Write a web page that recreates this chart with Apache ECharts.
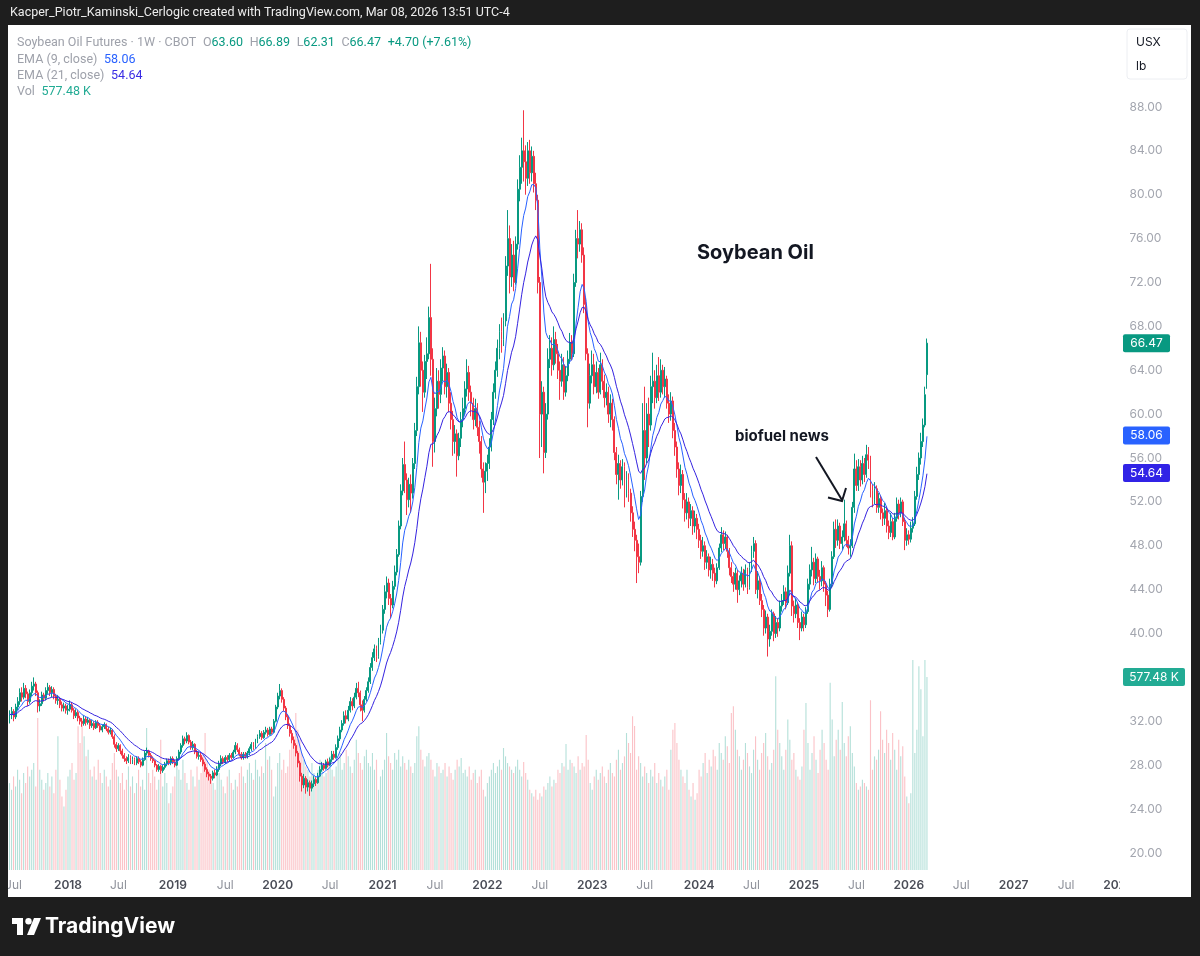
<!DOCTYPE html>
<html><head><meta charset="utf-8">
<script src="https://cdn.jsdelivr.net/npm/echarts@6/dist/echarts.min.js"></script>
<style>html,body{margin:0;padding:0;background:#1e1e1e;}#c{width:1200px;height:956px;}</style>
</head><body><div id="c"></div>
<script>
// ---- DATA (weekly candles: [open, close, low, high]) ----
const startWeek = '2017-06-12';
const weekCount = 551;
const priceTicks = [20,24,28,32,36,40,44,48,52,56,60,64,68,72,76,80,84,88];
const w2017 = [[32.3,32.6,31.8,33.0],[32.6,32.9,32.2,33.3],[32.9,32.4,32.0,33.1],[32.4,33.3,32.2,33.6],[33.3,33.8,33.0,34.2],
[33.8,34.6,33.5,35.0],[34.6,34.2,33.8,35.1],[34.2,35.0,34.0,35.5],[35.0,34.5,34.1,35.3],[34.5,33.8,33.4,34.7],
[33.8,34.6,33.6,34.9],[34.6,35.2,34.3,35.6],[35.2,35.4,34.8,36.0],[35.4,34.6,34.3,35.6],[34.6,33.4,32.8,34.8],
[33.4,33.6,32.9,34.0],[33.6,34.4,33.4,34.7],[34.4,34.1,33.8,34.6],[34.1,34.8,33.9,35.1],[34.8,35.1,34.5,35.5],
[35.1,34.6,34.3,35.3],[34.6,34.9,34.2,35.2],[34.9,34.3,34.0,35.1],[34.3,33.9,33.6,34.5],[33.9,34.0,33.5,34.4],
[34.0,33.5,33.2,34.2],[33.5,33.2,32.9,33.8],[33.2,33.4,32.9,33.7],[33.4,33.0,32.7,33.6]];
const w2018 = [[33.0,33.1,32.6,33.5],[33.1,33.5,32.9,33.9],[33.5,33.0,32.8,33.7],[33.0,32.5,32.2,33.2],[32.5,32.8,32.3,33.1],
[32.8,32.3,32.0,33.0],[32.3,32.0,31.7,32.5],[32.0,31.8,31.5,32.3],[31.8,32.2,31.6,32.5],[32.2,31.9,31.6,32.4],
[31.9,32.1,31.7,32.4],[32.1,31.6,31.3,32.2],[31.6,31.8,31.4,32.1],[31.8,31.4,31.2,32.0],[31.4,31.9,31.3,32.1],
[31.9,31.6,31.4,32.1],[31.6,31.2,31.0,31.8],[31.2,31.5,31.0,31.7],[31.5,31.7,31.3,31.9],[31.7,31.3,31.1,31.8],
[31.3,31.0,30.8,31.5],[31.0,31.2,30.8,31.4],[31.2,30.6,30.4,31.3],[30.6,29.9,29.6,30.8],[29.9,29.5,29.2,30.1],
[29.5,29.8,29.3,30.0],[29.8,29.3,29.0,29.9],[29.3,28.9,28.6,29.5],[28.9,28.6,28.3,29.1],[28.6,28.4,28.1,28.8],
[28.4,28.7,28.2,29.0],[28.7,28.3,28.1,28.9],[28.3,28.5,28.1,28.8],[28.5,28.2,28.0,28.7],[28.2,28.6,28.0,28.8],
[28.6,28.3,28.1,28.8],[28.3,28.0,27.8,28.5],[28.0,28.5,27.9,28.7],[28.5,29.1,28.4,29.3],[29.1,29.3,28.9,29.6],
[29.3,28.9,28.7,29.4],[28.9,28.6,28.4,29.1],[28.6,28.4,28.2,28.8],[28.4,28.0,27.8,28.5],[28.0,27.6,27.4,28.1],
[27.6,27.9,27.4,28.1],[27.9,27.5,27.2,28.0],[27.5,27.8,27.3,28.0],[27.8,28.1,27.6,28.3],[28.1,28.4,27.9,28.6],
[28.4,28.2,28.0,28.6],[28.2,28.6,28.0,28.8]];
const w2019 = [[28.6,28.3,28.1,28.8],[28.3,28.0,27.8,28.5],[28.0,28.6,27.9,28.8],[28.6,29.2,28.5,29.4],[29.2,29.8,29.0,30.0],
[29.8,30.4,29.6,30.7],[30.4,30.2,29.9,30.6],[30.2,30.7,30.0,31.0],[30.7,30.1,29.9,30.8],[30.1,29.6,29.4,30.3],
[29.6,29.9,29.4,30.2],[29.9,29.2,29.0,30.0],[29.2,28.8,28.6,29.4],[28.8,28.9,28.5,29.2],[28.9,28.5,28.3,29.1],
[28.5,28.1,27.9,28.7],[28.1,27.6,27.4,28.3],[27.6,27.2,26.9,27.8],[27.2,27.0,26.6,27.4],[27.0,26.8,26.3,27.2],
[26.8,27.3,26.6,27.5],[27.3,27.1,26.8,27.6],[27.1,27.6,27.0,27.9],[27.6,28.1,27.4,28.4],[28.1,28.6,27.9,28.9],
[28.6,28.3,28.1,28.8],[28.3,28.7,28.1,28.9],[28.7,28.5,28.3,28.9],[28.5,28.9,28.3,29.1],[28.9,28.7,28.5,29.1],
[28.7,29.2,28.6,29.4],[29.2,29.8,29.0,30.1],[29.8,29.4,29.2,30.0],[29.4,29.0,28.8,29.6],[29.0,28.7,28.5,29.2],
[28.7,29.0,28.5,29.2],[29.0,28.8,28.6,29.2],[28.8,29.1,28.6,29.3],[29.1,29.5,28.9,29.7],[29.5,29.9,29.3,30.1],
[29.9,29.6,29.4,30.1],[29.6,30.2,29.5,30.4],[30.2,30.6,30.0,30.8],[30.6,30.9,30.4,31.2],[30.9,30.5,30.3,31.1],
[30.5,31.0,30.4,31.2],[31.0,31.2,30.8,31.5],[31.2,30.8,30.6,31.4],[30.8,31.3,30.7,31.5],[31.3,31.0,30.8,31.5],
[31.0,32.0,30.9,32.2],[32.0,33.3,31.9,33.5]];
const w2020 = [[33.3,34.3,33.1,34.6],[34.3,34.8,34.0,35.4],[34.8,34.0,33.7,35.0],[34.0,33.2,32.9,34.2],[33.2,32.4,32.1,33.4],
[32.4,31.6,31.3,32.6],[31.6,30.9,30.6,31.8],[30.9,30.3,30.0,31.2],[30.3,29.8,29.5,30.6],[29.8,29.1,28.8,30.0],
[29.1,28.2,27.8,29.3],[28.2,27.0,26.5,28.4],[27.0,26.2,25.6,27.3],[26.2,26.8,25.9,27.2],[26.8,26.0,25.4,27.0],
[26.0,26.4,25.6,26.7],[26.4,25.9,25.2,26.6],[25.9,26.3,25.6,26.6],[26.3,26.7,26.0,27.0],[26.7,26.4,26.1,26.9],
[26.4,27.0,26.3,27.3],[27.0,27.6,26.9,27.9],[27.6,28.0,27.4,28.3],[28.0,27.7,27.5,28.2],[27.7,28.3,27.6,28.5],
[28.3,28.0,27.8,28.6],[28.0,28.5,27.9,28.7],[28.5,29.0,28.3,29.3],[29.0,28.7,28.5,29.3],[28.7,29.6,28.6,29.9],
[29.6,30.4,29.4,30.7],[30.4,31.2,30.2,31.5],[31.2,31.8,31.0,32.1],[31.8,32.5,31.6,32.9],[32.5,32.2,31.8,33.0],
[32.2,33.0,32.0,33.4],[33.0,33.8,32.8,34.2],[33.8,33.4,33.0,34.1],[33.4,34.2,33.2,34.6],[34.2,35.0,34.0,35.5],
[35.0,34.6,34.2,35.6],[34.6,33.5,32.9,34.8],[33.5,33.0,32.0,33.9],[33.0,34.0,32.8,34.3],[34.0,34.8,33.8,35.1],
[34.8,35.6,34.6,36.0],[35.6,36.9,35.4,37.3],[36.9,37.8,36.6,38.3],[37.8,38.6,37.5,39.0],[38.6,37.9,37.4,38.9],
[37.9,39.2,37.7,39.6],[39.2,40.3,39.0,40.8]];
const w2021 = [[40.3,42.2,40.0,42.6],[42.2,43.8,41.8,44.4],[43.8,44.6,43.2,45.2],[44.6,43.2,42.6,45.0],[43.2,42.6,41.4,43.6],
[42.6,44.3,42.3,44.8],[44.3,45.6,44.0,46.2],[45.6,47.2,45.3,47.7],[47.2,49.8,47.0,50.3],[49.8,53.0,49.5,53.6],
[53.0,55.4,52.6,56.0],[55.4,54.0,52.8,57.5],[54.0,52.2,50.8,54.6],[52.2,53.6,51.5,54.2],[53.6,52.8,51.0,54.5],
[52.8,55.5,52.3,56.0],[55.5,58.5,55.0,59.2],[58.5,62.5,58.0,63.4],[62.5,66.5,61.8,68.0],[66.5,64.0,62.5,67.5],
[64.0,62.0,60.2,64.8],[62.0,64.8,61.5,65.4],[64.8,65.5,63.2,67.0],[65.5,68.8,65.0,69.8],[68.8,65.0,63.5,73.7],
[65.0,57.5,55.2,66.0],[57.5,60.5,56.5,61.5],[60.5,63.0,59.8,64.2],[63.0,61.8,60.5,64.0],[61.8,64.2,61.0,65.0],
[64.2,65.3,63.0,66.1],[65.3,62.5,61.8,65.8],[62.5,63.8,61.5,64.6],[63.8,61.0,60.2,64.2],[61.0,59.5,58.6,62.0],
[59.5,57.5,56.2,60.3],[57.5,58.2,56.4,59.0],[58.2,56.2,54.3,58.6],[56.2,57.8,55.8,58.3],[57.8,59.5,57.0,60.2],
[59.5,60.5,58.8,61.5],[60.5,62.3,59.9,63.0],[62.3,63.8,61.6,65.0],[63.8,62.0,61.2,64.4],[62.0,61.0,59.8,62.6],
[61.0,59.5,58.6,61.5],[59.5,60.5,58.9,61.4],[60.5,58.8,58.0,61.0],[58.8,57.5,56.4,59.4],[57.5,55.0,54.2,58.0],
[55.0,53.8,51.0,55.6],[53.8,54.8,52.8,55.6],[54.8,55.5,53.9,56.3]];
const w2022 = [[55.5,57.0,55.0,57.8],[57.0,59.5,56.6,60.2],[59.5,62.0,59.0,62.8],[62.0,64.0,61.4,64.8],[64.0,66.0,63.4,66.8],
[66.0,67.5,65.0,68.2],[67.5,66.8,65.6,68.8],[66.8,68.5,66.2,69.2],[68.5,73.5,68.0,74.4],[73.5,76.0,72.6,78.6],
[76.0,72.5,71.0,77.2],[72.5,74.5,71.6,75.5],[74.5,72.0,71.2,75.8],[72.0,75.5,71.8,76.2],[75.5,80.5,75.0,81.4],
[80.5,82.5,79.4,83.6],[82.5,84.0,81.0,85.2],[84.0,83.0,81.2,87.7],[83.0,81.5,80.0,84.5],[81.5,84.0,80.8,84.8],
[84.0,82.0,81.0,85.0],[82.0,83.5,81.2,84.4],[83.5,81.0,80.2,84.0],[81.0,79.5,78.6,82.0],[79.5,72.0,71.0,80.0],
[72.0,60.0,56.0,72.5],[60.0,62.0,57.0,63.0],[62.0,56.5,54.6,62.5],[56.5,60.0,56.0,61.0],[60.0,65.0,59.5,66.0],
[65.0,66.0,64.2,67.2],[66.0,64.5,63.5,67.0],[64.5,66.8,64.0,68.0],[66.8,65.5,64.6,67.5],[65.5,64.0,63.2,66.4],
[64.0,63.0,61.3,64.8],[63.0,64.5,62.5,65.5],[64.5,62.0,61.3,65.2],[62.0,63.5,61.6,64.4],[63.5,65.0,63.0,65.8],
[65.0,66.5,64.6,67.4],[66.5,65.5,64.9,67.2],[65.5,72.0,65.2,72.8],[72.0,76.0,71.6,76.8],[76.0,75.5,74.2,78.6],
[75.5,76.8,74.8,77.6],[76.8,74.5,73.8,77.4],[74.5,70.0,69.2,75.2],[70.0,65.5,64.9,70.6],[65.5,61.0,58.8,66.0],
[61.0,63.5,60.5,64.6],[63.5,64.5,62.8,65.8]];
const w2023 = [[64.5,62.5,61.8,65.5],[62.5,63.8,61.9,64.8],[63.8,62.0,61.4,64.2],[62.0,64.5,61.8,65.6],[64.5,63.0,62.2,65.0],
[63.0,61.5,60.6,63.6],[61.5,62.0,60.8,62.8],[62.0,60.0,59.2,62.5],[60.0,61.0,58.8,61.8],[61.0,59.5,58.5,61.4],
[59.5,56.5,55.8,59.8],[56.5,54.5,53.6,57.0],[54.5,55.5,52.2,56.3],[55.5,54.0,53.2,55.8],[54.0,55.2,53.5,55.9],
[55.2,53.0,51.5,55.6],[53.0,54.0,52.4,54.8],[54.0,52.8,52.0,54.6],[52.8,51.0,50.2,53.2],[51.0,49.5,48.8,51.6],
[49.5,48.5,47.5,50.2],[48.5,47.0,44.6,49.0],[47.0,46.5,45.5,48.2],[46.5,52.5,46.2,53.0],[52.5,58.5,52.0,61.0],
[58.5,56.0,54.0,62.5],[56.0,60.0,55.5,61.0],[60.0,59.0,57.0,61.5],[59.0,62.5,58.5,63.5],[62.5,63.0,61.0,65.6],
[63.0,61.5,60.5,64.0],[61.5,63.5,61.0,64.5],[63.5,62.0,61.2,65.2],[62.0,64.0,61.5,65.0],[64.0,62.5,61.8,64.5],
[62.5,63.2,61.5,64.3],[63.2,61.0,60.5,63.5],[61.0,60.0,59.2,61.8],[60.0,61.2,59.4,62.0],[61.2,58.5,57.8,61.6],
[58.5,57.0,56.2,59.2],[57.0,55.0,54.2,57.5],[55.0,53.5,52.6,55.6],[53.5,54.5,52.8,55.4],[54.5,52.2,51.4,54.9],
[52.2,51.0,50.2,52.8],[51.0,52.0,50.4,52.8],[52.0,50.5,49.6,52.4],[50.5,51.2,49.8,51.8],[51.2,49.8,49.0,51.6],
[49.8,50.5,49.2,51.2],[50.5,49.5,48.6,50.9]];
const w2024 = [[49.5,48.5,47.8,50.0],[48.5,47.5,46.8,49.0],[47.5,48.0,47.0,48.8],[48.0,46.5,45.8,48.4],[46.5,47.0,45.9,47.6],
[47.0,45.8,45.2,47.3],[45.8,46.3,45.0,47.0],[46.3,45.5,44.8,46.8],[45.5,44.8,44.2,46.0],[44.8,46.0,44.5,46.4],
[46.0,47.8,45.8,48.2],[47.8,49.0,47.4,49.7],[49.0,48.2,47.6,49.4],[48.2,48.8,47.7,49.3],[48.8,47.5,46.9,49.0],
[47.5,46.0,45.3,47.8],[46.0,45.2,44.6,46.5],[45.2,44.5,43.8,45.6],[44.5,45.5,44.0,46.0],[45.5,44.0,42.8,45.8],
[44.0,44.8,43.5,45.3],[44.8,45.5,44.2,46.1],[45.5,44.5,43.9,45.9],[44.5,45.8,44.2,46.3],[45.8,44.2,43.6,46.0],
[44.2,46.0,44.0,46.5],[46.0,47.5,45.6,48.0],[47.5,48.2,46.9,48.8],[48.2,44.0,43.6,48.5],[44.0,44.8,43.2,45.7],
[44.8,43.0,42.6,45.2],[43.0,42.2,41.5,43.6],[42.2,40.5,39.8,42.6],[40.5,41.5,40.0,42.1],[41.5,39.5,37.9,41.8],
[39.5,40.2,38.8,40.8],[40.2,41.8,39.8,42.2],[41.8,40.0,39.3,42.0],[40.0,41.0,39.6,41.6],[41.0,40.5,39.7,41.4],
[40.5,42.5,40.2,43.0],[42.5,43.0,42.0,43.6],[43.0,43.8,42.6,44.4],[43.8,42.8,42.2,44.2],[42.8,45.5,42.6,46.2],
[45.5,48.0,45.2,49.0],[48.0,42.5,41.6,48.4],[42.5,41.8,41.0,43.0],[41.8,42.6,41.4,43.2],[42.6,41.0,40.5,42.8],
[41.0,40.5,39.4,41.4],[40.5,41.5,40.2,42.0]];
const w2025 = [[41.5,40.8,40.2,41.8],[40.8,42.0,40.5,42.4],[42.0,44.5,41.8,45.0],[44.5,45.8,44.0,46.3],[45.8,46.5,45.2,47.9],
[46.5,45.0,44.4,46.9],[45.0,46.8,44.6,47.3],[46.8,45.2,44.7,47.0],[45.2,44.8,44.0,45.8],[44.8,46.0,44.3,46.6],
[46.0,44.5,43.8,46.2],[44.5,43.5,42.5,44.8],[43.5,42.2,41.5,43.9],[42.2,44.5,42.0,45.0],[44.5,47.0,44.2,47.5],
[47.0,49.5,46.8,50.2],[49.5,48.5,47.8,50.4],[48.5,49.8,48.0,50.4],[49.8,48.2,47.7,50.1],[48.2,48.8,47.6,49.4],
[48.8,50.0,48.4,52.2],[50.0,48.5,47.9,50.3],[48.5,47.8,47.2,48.9],[47.8,48.0,47.0,48.6],[48.0,51.5,47.8,52.0],
[51.5,55.0,51.0,56.4],[55.0,53.5,53.0,55.8],[53.5,55.2,53.0,55.9],[55.2,54.0,53.4,55.8],[54.0,55.5,53.6,56.2],
[55.5,54.5,53.8,56.0],[54.5,56.3,54.2,57.2],[56.3,55.8,55.0,57.0],[55.8,53.0,52.4,56.2],[53.0,52.2,51.5,53.6],
[52.2,53.2,51.8,53.8],[53.2,51.5,51.0,53.5],[51.5,52.3,51.0,52.8],[52.3,51.0,50.4,52.6],[51.0,50.5,49.8,51.4],
[50.5,51.2,49.9,51.9],[51.2,49.8,49.2,51.6],[49.8,49.2,48.6,50.3],[49.2,50.2,48.8,51.0],[50.2,48.8,48.5,50.5],
[48.8,50.5,48.6,51.0],[50.5,51.8,50.2,52.4],[51.8,51.0,50.4,52.2],[51.0,52.0,50.6,52.4],[52.0,50.2,49.8,52.2],
[50.2,48.5,47.6,50.5],[48.5,49.0,48.0,49.6],[49.0,48.6,48.1,49.4]];
const w2026 = [[48.6,49.6,48.3,50.2],[49.6,50.0,49.2,50.6],[50.0,52.5,49.8,53.0],[52.5,54.5,52.2,55.2],[54.5,56.0,54.0,56.5],
[56.0,57.5,55.4,58.3],[57.5,59.0,57.0,59.6],[59.0,61.77,58.8,62.5],[63.60,66.47,62.31,66.89]];
// weekly volume, thousands of contracts
const v2017 = [260,240,280,250,300,270,230,290,260,310,280,300,320,250,455,300,270,240,260,290,250,280,230,300,400,270,220,190,240];
const v2018 = [280,300,320,270,290,430,380,450,400,340,360,300,280,310,270,330,290,260,300,280,250,270,320,350,300,280,260,290,240,270,310,250,280,230,260,300,250,270,240,425,290,260,300,280,240,270,390,250,290,260,200,230];
const v2019 = [250,280,310,300,270,330,290,260,240,300,280,250,310,270,290,350,410,330,300,280,260,240,310,290,270,250,230,280,300,260,240,270,250,290,310,280,260,300,320,290,270,330,300,280,310,290,380,330,340,300,220,250];
const v2020 = [320,350,300,330,290,310,360,380,400,470,420,390,350,330,310,300,280,320,290,270,300,330,310,280,290,320,340,300,280,310,330,350,300,320,360,340,310,290,330,390,350,320,300,340,360,320,310,350,300,330,240,280];
const v2021 = [300,330,410,340,320,300,350,330,360,310,340,320,300,330,310,290,320,400,430,360,330,310,340,350,330,300,280,320,310,290,300,320,280,310,290,270,300,330,310,335,290,300,280,310,270,290,300,260,280,300,240,220,260];
const v2022 = [280,300,320,290,310,330,300,365,340,320,310,300,290,310,330,300,280,323,290,270,240,230,220,240,210,230,220,250,240,260,280,250,270,260,300,290,320,310,377,300,330,320,310,290,340,300,320,310,404,330,260,240];
const v2023 = [280,300,270,290,310,280,260,300,320,290,280,330,360,300,320,340,410,380,350,460,431,300,340,320,280,310,290,260,300,280,320,260,290,270,250,280,300,240,360,420,440,380,330,300,280,260,300,240,220,260,210,230];
const v2024 = [300,280,320,350,290,330,310,360,340,300,380,350,330,400,370,320,470,490,420,360,340,300,330,380,350,310,290,360,400,330,300,350,380,410,340,300,320,360,580,420,380,340,300,360,450,390,330,350,300,280,270,310];
const v2025 = [420,500,380,300,350,400,330,290,360,420,380,330,300,560,450,340,390,420,360,503,380,340,400,430,350,310,260,240,250,270,260,250,240,508,300,340,330,360,475,390,350,420,380,330,410,360,300,390,340,370,280,220,200];
const v2026 = [230,628,350,420,610,541,400,628,577.48];

// ---- BUILD ----
const FF = 'Inter, "Noto Sans", sans-serif';
const FT = 'Roboto, "Noto Sans", sans-serif';
const UP = '#089981', DOWN = '#f23645';
const candles = [].concat(w2017,w2018,w2019,w2020,w2021,w2022,w2023,w2024,w2025,w2026);
const volumes = [].concat(v2017,v2018,v2019,v2020,v2021,v2022,v2023,v2024,v2025,v2026);
const closes = candles.map(r => r[1]);
function ema(src, n){ const k = 2/(n+1); const out=[]; let e = src[0];
  for (let i=0;i<src.length;i++){ e = i===0 ? src[0] : src[i]*k + e*(1-k); out.push(+e.toFixed(3)); } return out; }
const ema9 = ema(closes, 9), ema21 = ema(closes, 21);
const categories = [];
(function(){ const d0 = Date.parse(startWeek + 'T00:00:00Z');
  for (let i=0;i<weekCount;i++) categories.push(new Date(d0 + i*7*864e5).toISOString().slice(0,10)); })();
function labelFor(v){ const d = new Date(v + 'T00:00:00Z'); const e = new Date(d.getTime() + 6*864e5);
  if (d.getUTCDate() === 1 || e.getUTCMonth() !== d.getUTCMonth()) { const m = e.getUTCMonth();
    if (m === 0) return String(e.getUTCFullYear()); if (m === 6) return 'Jul'; } return null; }
const volData = volumes.slice(0, candles.length).map((v,i) => ({ value: v,
  itemStyle: { color: candles[i][1] >= candles[i][0] ? 'rgba(8,153,129,0.30)' : 'rgba(242,54,69,0.30)' } }));

const L = 8.5, R = 80.5;
const chart = echarts.init(document.getElementById('c'), null, { renderer: 'canvas' });
const labIv = (i, v) => !!labelFor(v);
chart.setOption({
  animation: false,
  backgroundColor: '#ffffff',
  textStyle: { fontFamily: FF },
  grid: [
    { left: L, right: R, top: 19.2, bottom: 59.2 },
    { left: L, right: R, top: 872, bottom: 83 },
    { left: L, right: R, top: 660, bottom: 86 }
  ],
  xAxis: [
    { type: 'category', gridIndex: 0, data: categories, boundaryGap: true,
      axisLine: { show: false }, axisTick: { show: false }, axisLabel: { show: false }, splitLine: { show: false } },
    { type: 'category', gridIndex: 1, data: categories, boundaryGap: true,
      axisLine: { show: false }, axisTick: { show: false }, splitLine: { show: false },
      axisLabel: { interval: labIv, margin: 6, fontFamily: FF,
        formatter: v => { const l = labelFor(v); return l === 'Jul' ? '{m|Jul}' : '{y|' + l + '}'; },
        rich: { m: { color: '#8f929b', fontSize: 12, fontFamily: FF },
                y: { color: '#4a4d57', fontSize: 12, fontWeight: 600, fontFamily: FF } } } },
    { type: 'category', gridIndex: 2, data: categories, boundaryGap: true, show: false }
  ],
  yAxis: [
    { type: 'value', gridIndex: 0, position: 'right', min: 16, max: 96, interval: 4, scale: false,
      axisLine: { show: false }, axisTick: { show: false }, splitLine: { show: false },
      axisLabel: { margin: 10, color: '#a3a6af', fontSize: 12, fontFamily: FF,
        formatter: v => (priceTicks.indexOf(v) >= 0 ? v.toFixed(2) : '') } },
    { type: 'value', gridIndex: 1, show: false },
    { type: 'value', gridIndex: 2, min: 0, max: 628.35, show: false, splitLine: { show: false } }
  ],
  series: [
    { type: 'bar', name: 'Vol', xAxisIndex: 2, yAxisIndex: 2, data: volData, barWidth: '55%', z: 1, silent: true },
    { type: 'candlestick', name: 'Soybean Oil', xAxisIndex: 0, yAxisIndex: 0, data: candles, barWidth: '72%', z: 3,
      itemStyle: { color: UP, color0: DOWN, borderColor: UP, borderColor0: DOWN, borderWidth: 1 } },
    { type: 'line', name: 'EMA 9', xAxisIndex: 0, yAxisIndex: 0, data: ema9, showSymbol: false, symbol: 'none', z: 4,
      lineStyle: { color: '#2962ff', width: 1 } },
    { type: 'line', name: 'EMA 21', xAxisIndex: 0, yAxisIndex: 0, data: ema21, showSymbol: false, symbol: 'none', z: 4,
      lineStyle: { color: '#3523e0', width: 1 } }
  ]
});

// ---- overlays ----
const py = v => chart.convertToPixel({ yAxisIndex: 0 }, v);
const vy = v => chart.convertToPixel({ yAxisIndex: 2 }, v);
function tag(y, text, bg, w){ return [
  { type: 'rect', z: 100, shape: { x: 1123, y: y - 9, width: w, height: 18, r: 2 }, style: { fill: bg } },
  { type: 'text', z: 101, x: 1123 + w/2, y: y, style: { text: text, fill: '#ffffff', fontSize: 12, fontFamily: FF, align: 'center', verticalAlign: 'middle' } } ]; }
const g = [];
g.push({ type: 'rect', z: 90, shape: { x: 0, y: 0, width: 1200, height: 25 }, style: { fill: '#1e1e1e' } });
g.push({ type: 'rect', z: 90, shape: { x: 0, y: 897, width: 1200, height: 59 }, style: { fill: '#1e1e1e' } });
g.push({ type: 'rect', z: 90, shape: { x: 0, y: 0, width: 8, height: 956 }, style: { fill: '#1e1e1e' } });
g.push({ type: 'rect', z: 90, shape: { x: 1191, y: 0, width: 9, height: 956 }, style: { fill: '#1e1e1e' } });
g.push({ type: 'rect', z: 80, shape: { x: 1120, y: 874, width: 71, height: 22 }, style: { fill: '#ffffff' } });
g.push({ type: 'text', z: 95, x: 10, y: 13, style: { text: 'Kacper_Piotr_Kaminski_Cerlogic created with TradingView.com, Mar 08, 2026 13:51 UTC-4',
  fill: '#ececec', fontSize: 12.5, fontFamily: FT, verticalAlign: 'middle' } });
g.push({ type: 'rect', z: 95, shape: { x: 12, y: 918, width: 11, height: 6 }, style: { fill: '#ffffff' } });
g.push({ type: 'rect', z: 95, shape: { x: 17, y: 918, width: 6, height: 17 }, style: { fill: '#ffffff' } });
g.push({ type: 'circle', z: 95, shape: { cx: 28.5, cy: 921.3, r: 3.2 }, style: { fill: '#ffffff' } });
g.push({ type: 'polygon', z: 95, shape: { points: [[34,918],[41,918],[34,935],[27,935]] }, style: { fill: '#ffffff' } });
g.push({ type: 'text', z: 95, x: 45, y: 927, style: { text: 'TradingView', fill: '#ffffff', fontSize: 21, fontWeight: 700, fontFamily: FF, verticalAlign: 'middle' } });
const fs = 12.5;
const rich = { g: { fill: '#9ea1aa', fontSize: fs, fontFamily: FT }, v: { fill: '#089981', fontSize: fs, fontFamily: FT },
  b: { fill: '#2962ff', fontSize: fs, fontFamily: FT }, p: { fill: '#3a2ce4', fontSize: fs, fontFamily: FT },
  t: { fill: '#22ab94', fontSize: fs, fontFamily: FT } };
g.push({ type: 'text', z: 95, x: 17, y: 43, style: { text: '{g|Soybean Oil Futures · 1W · CBOT}  {g|O}{v|63.60}  {g|H}{v|66.89}  {g|L}{v|62.31}  {g|C}{v|66.47}  {v|+4.70 (+7.61%)}', rich: rich, verticalAlign: 'middle' } });
g.push({ type: 'text', z: 95, x: 17, y: 59.5, style: { text: '{g|EMA (9, close)}  {b|58.06}', rich: rich, verticalAlign: 'middle' } });
g.push({ type: 'text', z: 95, x: 17, y: 76, style: { text: '{g|EMA (21, close)}  {p|54.64}', rich: rich, verticalAlign: 'middle' } });
g.push({ type: 'text', z: 95, x: 17, y: 92, style: { text: '{g|Vol}  {t|577.48 K}', rich: rich, verticalAlign: 'middle' } });
g.push({ type: 'rect', z: 95, shape: { x: 1127, y: 29, width: 60, height: 50, r: 3 }, style: { fill: '#ffffff', stroke: '#eceef2', lineWidth: 1 } });
g.push({ type: 'text', z: 96, x: 1136, y: 42, style: { text: 'USX', fill: '#131722', fontSize: 12, fontFamily: FF, verticalAlign: 'middle' } });
g.push({ type: 'text', z: 96, x: 1136, y: 66, style: { text: 'lb', fill: '#131722', fontSize: 12, fontFamily: FF, verticalAlign: 'middle' } });
g.push({ type: 'text', z: 95, x: 697, y: 253, style: { text: 'Soybean Oil', fill: '#131722', fontSize: 20, fontWeight: 700, fontFamily: FF, verticalAlign: 'middle' } });
g.push({ type: 'text', z: 95, x: 735, y: 436, style: { text: 'biofuel news', fill: '#131722', fontSize: 15, fontWeight: 700, fontFamily: FF, verticalAlign: 'middle' } });
g.push({ type: 'line', z: 95, shape: { x1: 816, y1: 457, x2: 842, y2: 500 }, style: { stroke: '#131722', lineWidth: 2 } });
g.push({ type: 'polyline', z: 95, shape: { points: [[828,497.5],[842,501],[846,488]] }, style: { stroke: '#131722', lineWidth: 2, fill: null } });
tag(py(66.47), '66.47', '#089981', 47).forEach(e => g.push(e));
tag(py(58.06), '58.06', '#2962ff', 47).forEach(e => g.push(e));
tag(py(54.64), '54.64', '#3123e6', 47).forEach(e => g.push(e));
tag(vy(577.48), '577.48 K', '#22ab94', 62).forEach(e => g.push(e));
chart.setOption({ graphic: g });
</script></body></html>
